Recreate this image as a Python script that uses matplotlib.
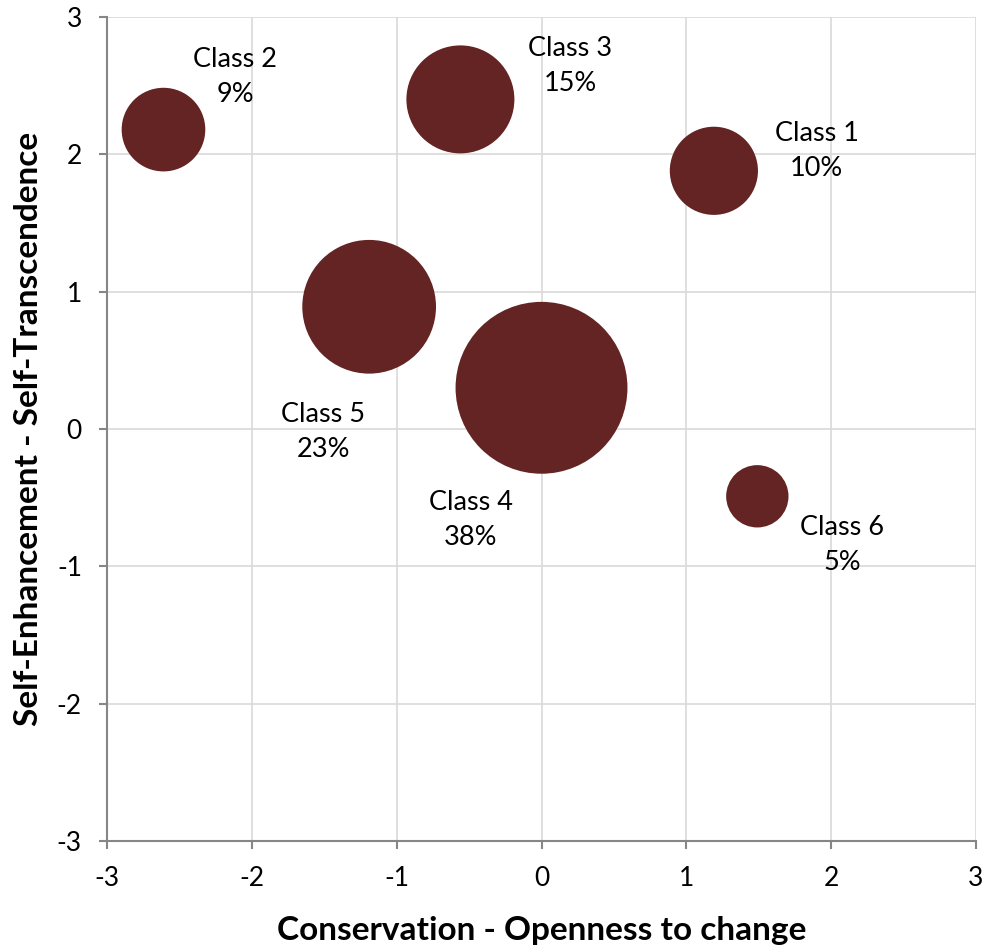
import matplotlib
matplotlib.use('Agg')
import matplotlib.pyplot as plt

plt.rcParams['font.family'] = ['Lato', 'DejaVu Sans']
plt.rcParams['axes.unicode_minus'] = False

# Class positions on the two value dimensions and class share
classes = ['Class 1', 'Class 2', 'Class 3', 'Class 4', 'Class 5', 'Class 6']
x_vals = [1.19, -2.61, -0.56, 0.0, -1.19, 1.49]
y_vals = [1.88, 2.18, 2.40, 0.30, 0.89, -0.49]
shares = [10, 9, 15, 38, 23, 5]

# label offsets from bubble centre, in pixels
label_dx = [103, 72, 110, -71, -46, 85]
label_dy = [20, 53, 33, -132, -125, -49]

color = '#632423'

fig = plt.figure(figsize=(9.86, 9.49), dpi=100)
ax = fig.add_axes([0.1085, 0.1138, 0.8814, 0.8683])

# bubble area proportional to share (Excel style)
ax.scatter(x_vals, y_vals, s=[p * 403 for p in shares], color=color,
           edgecolors='none', zorder=3)

for name, x, y, p, dx, dy in zip(classes, x_vals, y_vals, shares, label_dx, label_dy):
    ax.annotate(f'{name}\n{p}%', (x, y), xytext=(dx, dy), textcoords='offset pixels',
                ha='center', va='center', fontsize=19.5, linespacing=1.5, zorder=4)

ax.set_xlim(-3, 3)
ax.set_ylim(-3, 3)
ax.set_xticks(range(-3, 4))
ax.set_yticks(range(-3, 4))
ax.grid(True, color='#d9d9d9', linewidth=1.2, zorder=0)
ax.set_axisbelow(True)

for side in ['top', 'right']:
    ax.spines[side].set_visible(False)
for side in ['left', 'bottom']:
    ax.spines[side].set_color('#868686')
    ax.spines[side].set_linewidth(1.5)
ax.tick_params(direction='out', length=6, width=1.5, color='#868686',
               labelsize=19, pad=12)

ax.set_xlabel('Conservation - Openness to change', fontsize=24, fontweight='bold', labelpad=18)
ax.set_ylabel('Self-Enhancement - Self-Transcendence', fontsize=24, fontweight='bold', labelpad=10)

plt.savefig('out.png', dpi=100)
